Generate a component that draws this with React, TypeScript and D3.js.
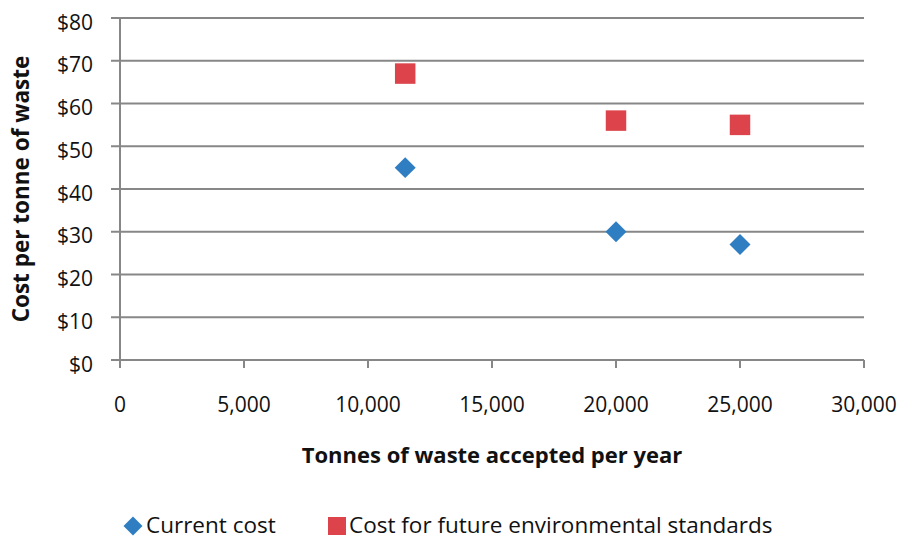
import React from "react";
import * as d3 from "d3";

const tonnes = [11500, 20000, 25000];
const currentCost = [45, 30, 27];
const futureCost = [67, 56, 55];
const xTicks = [0, 5000, 10000, 15000, 20000, 25000, 30000];
const yTicks = [0, 10, 20, 30, 40, 50, 60, 70, 80];
const seriesNames = ["Current cost", "Cost for future environmental standards"];

const W = 902;
const H = 540;
const M = { left: 120, right: 38, top: 18, bottom: 180 };
const BLUE = "#2F7EC2";
const RED = "#DC434A";
const GRID = "#878787";
const FONT = "'Open Sans', sans-serif";

export default function App() {
  const x = d3.scaleLinear().domain([0, 30000]).range([M.left, W - M.right]);
  const y = d3.scaleLinear().domain([0, 80]).range([H - M.bottom, M.top]);
  const fmtX = d3.format(",");
  const fmtY = (v: number) => `$${v}`;
  const diamond = d3.symbol().type(d3.symbolSquare).size(220)();
  const square = d3.symbol().type(d3.symbolSquare).size(420)();
  const legendDiamond = d3.symbol().type(d3.symbolSquare).size(180)();
  const legendSquare = d3.symbol().type(d3.symbolSquare).size(324)();

  return (
    <div style={{ position: "fixed", left: 0, top: 0 }}>
      <svg width={W} height={H} style={{ display: "block", background: "#fff" }}>
        {/* horizontal gridlines with outward ticks */}
        {yTicks.map((t) => (
          <g key={`y${t}`}>
            <line x1={x(0) - 9} x2={x(30000)} y1={y(t)} y2={y(t)} stroke={GRID} strokeWidth={2} />
            <text x={x(0) - 27} y={y(t)} dy="0.55em" textAnchor="end" fontFamily={FONT} fontSize={21} fill="#111">
              {fmtY(t)}
            </text>
          </g>
        ))}
        {/* y axis line */}
        <line x1={x(0)} x2={x(0)} y1={y(80)} y2={y(0) + 8} stroke={GRID} strokeWidth={2} />
        {/* x ticks */}
        {xTicks.map((t) => (
          <g key={`x${t}`}>
            <line x1={x(t)} x2={x(t)} y1={y(0)} y2={y(0) + 8} stroke={GRID} strokeWidth={2} />
            <text x={x(t)} y={y(0) + 52} textAnchor="middle" fontFamily={FONT} fontSize={21} fill="#111">
              {fmtX(t)}
            </text>
          </g>
        ))}
        {/* axis titles */}
        <text x={492} y={463} textAnchor="middle" fontFamily={FONT} fontWeight="bold" fontSize={22} fill="#111">
          Tonnes of waste accepted per year
        </text>
        <text
          transform={`translate(29,${(y(0) + y(80)) / 2}) rotate(-90)`}
          textAnchor="middle"
          fontFamily={FONT}
          fontWeight="bold"
          fontSize={22.5}
          fill="#111"
        >
          Cost per tonne of waste
        </text>
        {/* series */}
        {tonnes.map((t, i) => (
          <path key={`f${i}`} d={square!} transform={`translate(${x(t)},${y(futureCost[i])})`} fill={RED} />
        ))}
        {tonnes.map((t, i) => (
          <path key={`c${i}`} d={diamond!} transform={`translate(${x(t)},${y(currentCost[i])}) rotate(45)`} fill={BLUE} />
        ))}
        {/* legend */}
        <path d={legendDiamond!} transform="translate(133,526) rotate(45)" fill={BLUE} />
        <text x={146} y={533} fontFamily={FONT} fontSize={22.5} fill="#111">{seriesNames[0]}</text>
        <path d={legendSquare!} transform="translate(337,526)" fill={RED} />
        <text x={349} y={533} fontFamily={FONT} fontSize={22.5} fill="#111">{seriesNames[1]}</text>
      </svg>
    </div>
  );
}
